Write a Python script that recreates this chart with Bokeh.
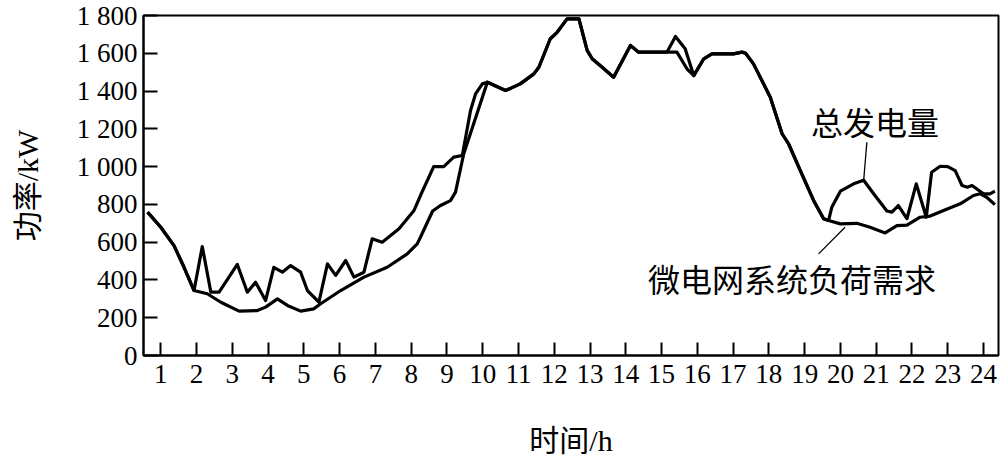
from bokeh.plotting import figure
from bokeh.models import Range1d, FixedTicker, Label
from bokeh.embed import file_html
from bokeh.resources import INLINE

# ---- data (hours, kW) ----
load_x = [0.63, 1.0, 1.37, 1.65, 1.93, 2.3, 2.68, 3.19, 3.7, 3.93, 4.26, 4.54, 4.91, 5.28, 5.47,
          6.03, 6.68, 7.33, 7.89, 8.17, 8.26, 8.6, 8.82, 9.1, 9.24, 9.47, 10.13, 10.64, 11.05,
          11.43, 11.57, 11.89, 12.08, 12.36, 12.69, 12.92, 13.06, 13.34, 13.66, 14.13, 14.36,
          15.15, 15.43, 15.71, 15.9, 16.18, 16.41, 17.01, 17.25, 17.35, 17.57, 18.04, 18.37,
          18.55, 18.88, 19.25, 19.53, 19.67, 20.0, 20.46, 20.83, 21.25, 21.58, 21.86, 22.23,
          22.51, 22.97, 23.35, 23.72, 23.91, 24.09, 24.32]
load_y = [759, 679, 582, 467, 344, 327, 282, 235, 238, 256, 300, 265, 235, 247, 274,
          344, 415, 467, 538, 591, 626, 765, 794, 820, 865, 1068, 1447, 1403, 1438,
          1491, 1526, 1677, 1711, 1782, 1782, 1615, 1571, 1526, 1473, 1641, 1606,
          1606, 1606, 1518, 1482, 1571, 1597, 1597, 1606, 1600, 1544, 1367, 1174,
          1121, 979, 821, 724, 715, 697, 700, 679, 649, 688, 690, 732,
          738, 774, 803, 847, 856, 838, 799]

gen_x = [0.63, 1.0, 1.37, 1.65, 1.93, 2.16, 2.4, 2.63, 3.14, 3.42, 3.65, 3.93, 4.16, 4.4, 4.63,
         4.91, 5.1, 5.42, 5.66, 5.89, 6.17, 6.4, 6.68, 6.91, 7.19, 7.66, 8.08, 8.26, 8.63, 8.91,
         9.19, 9.43, 9.66, 9.8, 9.99, 10.13, 10.64, 11.05, 11.43, 11.57, 11.89, 12.08, 12.36,
         12.69, 12.92, 13.06, 13.34, 13.66, 14.13, 14.36, 15.15, 15.39, 15.66, 15.9, 16.18,
         16.41, 17.01, 17.25, 17.35, 17.57, 18.04, 18.37, 18.55, 18.88, 19.25, 19.53, 19.67,
         19.76, 20.0, 20.37, 20.65, 20.93, 21.3, 21.44, 21.62, 21.86, 22.12, 22.4, 22.55,
         22.79, 23.0, 23.21, 23.4, 23.55, 23.68, 24.0, 24.18, 24.32]
gen_y = [759, 679, 582, 467, 344, 577, 335, 335, 482, 335, 388, 291, 467, 441, 476,
         441, 344, 282, 485, 424, 503, 415, 441, 618, 600, 671, 768, 847, 1000, 1000,
         1050, 1059, 1297, 1385, 1438, 1447, 1403, 1438, 1491, 1526, 1677, 1711, 1782,
         1782, 1615, 1571, 1526, 1473, 1641, 1606, 1606, 1689, 1624, 1482, 1571,
         1597, 1597, 1606, 1600, 1544, 1367, 1174, 1121, 979, 821, 724, 715,
         785, 870, 909, 928, 856, 765, 759, 794, 724, 909, 732, 970,
         1002, 1000, 979, 900, 891, 900, 856, 856, 870]

x_ticks = list(range(1, 25))
y_ticks = [0, 200, 400, 600, 800, 1000, 1200, 1400, 1600, 1800]
y_tick_labels = ["0", "200", "400", "600", "800", "1 000", "1 200", "1 400", "1 600", "1 800"]

NUM_FONT = "Liberation Serif"
MIX_FONT = "'Liberation Serif', 'Noto Sans CJK SC'"
CJK_FONT = "Noto Sans CJK SC"

p = figure(width=1000, height=459, output_backend="svg", toolbar_location=None,
           x_range=Range1d(0.517, 24.42), y_range=Range1d(0, 1800),
           min_border_left=143, min_border_right=2, min_border_top=15, min_border_bottom=104)

p.background_fill_color = "white"
p.border_fill_color = "white"
p.outline_line_color = "black"
p.outline_line_width = 2
p.grid.visible = False

p.line(load_x, load_y, line_color="black", line_width=3.2, line_join="round")
p.line(gen_x, gen_y, line_color="black", line_width=3.2, line_join="round")

# axes
xa = p.xaxis[0]
xa.ticker = FixedTicker(ticks=x_ticks)
xa.major_tick_in = 13
xa.major_tick_out = 0
xa.minor_tick_line_color = None
xa.axis_line_width = 2
xa.major_tick_line_width = 2
xa.major_label_text_font = NUM_FONT
xa.major_label_text_font_size = "27px"
xa.major_label_text_color = "black"
xa.major_label_standoff = 9
xa.axis_label = "时间/h"
xa.axis_label_text_font = MIX_FONT
xa.axis_label_text_font_size = "30px"
xa.axis_label_text_font_style = "normal"
xa.axis_label_text_color = "black"
xa.axis_label_standoff = 38

ya = p.yaxis[0]
ya.ticker = FixedTicker(ticks=y_ticks)
ya.major_label_overrides = {t: s for t, s in zip(y_ticks, y_tick_labels)}
ya.major_tick_in = 14
ya.major_tick_out = 0
ya.minor_tick_line_color = None
ya.axis_line_width = 2
ya.major_tick_line_width = 2
ya.major_label_text_font = NUM_FONT
ya.major_label_text_font_size = "27px"
ya.major_label_text_color = "black"
ya.major_label_standoff = 6
ya.axis_label = "功率/kW"
ya.axis_label_text_font = MIX_FONT
ya.axis_label_text_font_size = "30px"
ya.axis_label_text_font_style = "normal"
ya.axis_label_text_color = "black"
ya.axis_label_standoff = 30

# annotations
p.segment(x0=[20.74, 20.13], y0=[1129, 679], x1=[20.65, 19.39], y1=[926, 538],
          line_color="black", line_width=1.3)
p.add_layout(Label(x=20.97, y=1239, text="总发电量", text_font=CJK_FONT,
                   text_font_size="32px", text_align="center", text_baseline="middle",
                   text_color="black"))
p.add_layout(Label(x=18.65, y=408, text="微电网系统负荷需求", text_font=CJK_FONT,
                   text_font_size="32px", text_align="center", text_baseline="middle",
                   text_color="black"))

open("out.html", "w").write(file_html(p, INLINE))
